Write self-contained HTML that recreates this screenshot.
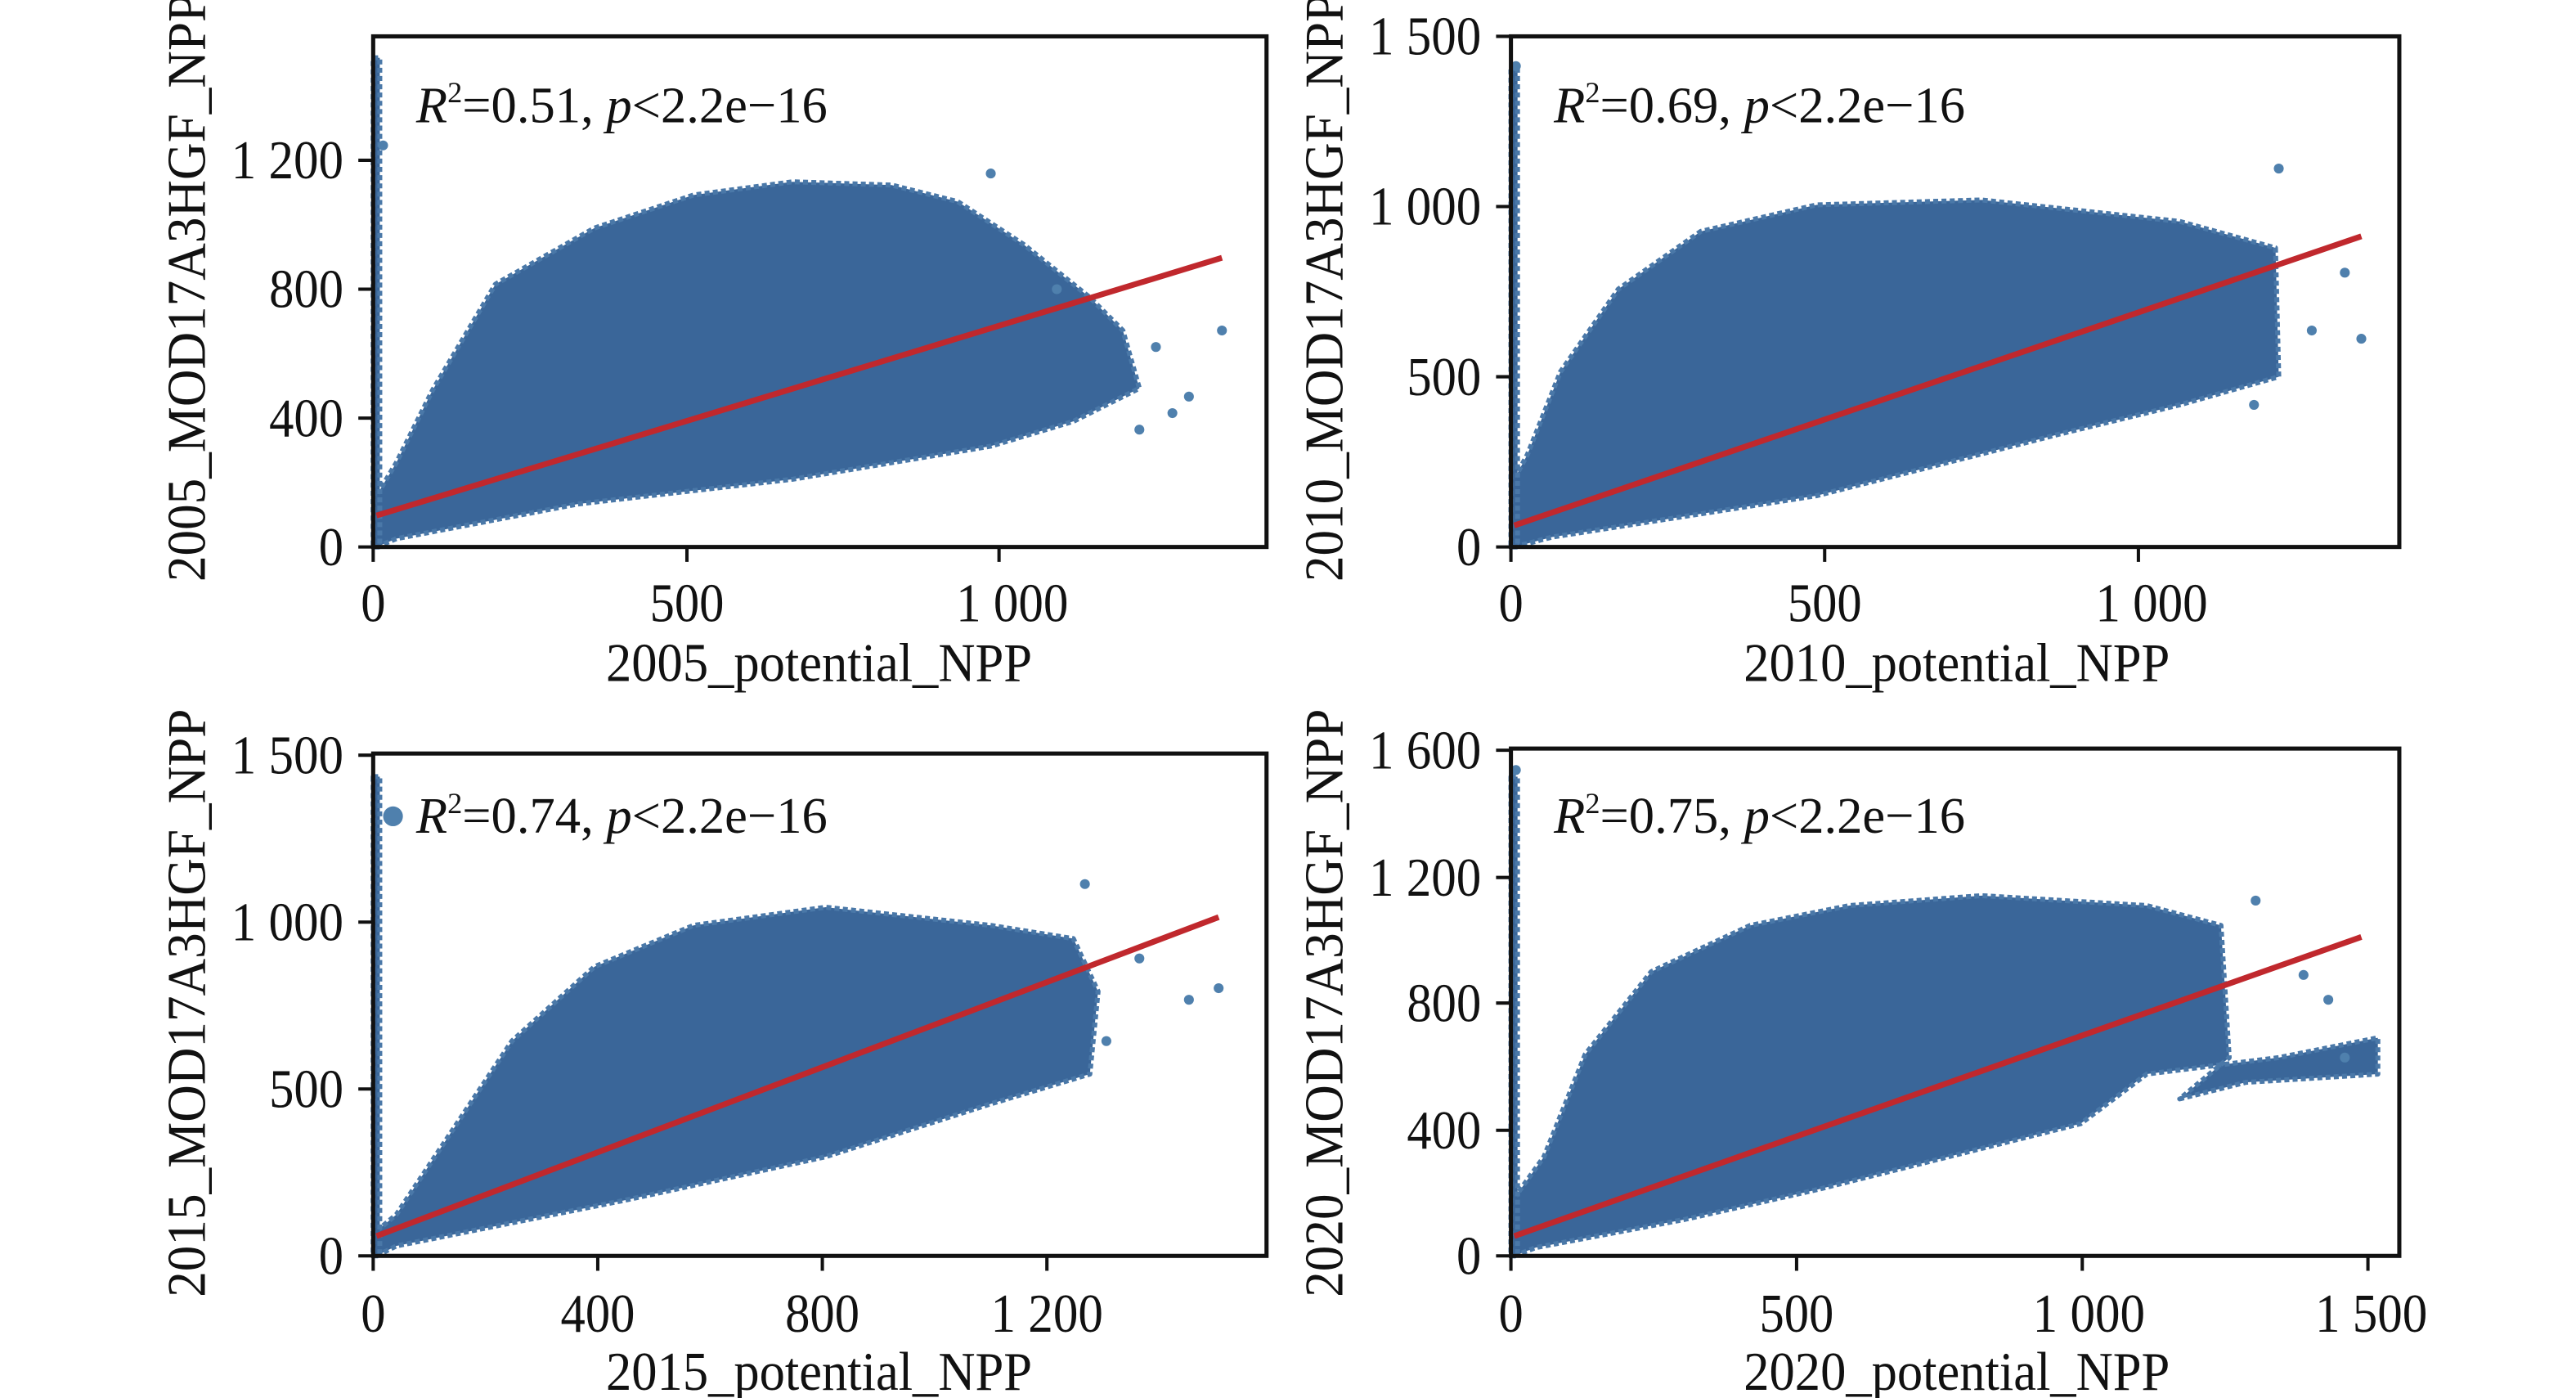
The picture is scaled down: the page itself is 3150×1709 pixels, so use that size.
<!DOCTYPE html>
<html><head><meta charset="utf-8"><style>
html,body{margin:0;padding:0;background:#fff;}
svg{display:block;}
text{font-family:"Liberation Serif",serif;fill:#111;}
</style></head><body>
<svg width="3150" height="1709" viewBox="0 0 1560 846" preserveAspectRatio="none" xmlns="http://www.w3.org/2000/svg">
<g fill="#3a6699" stroke="#4a78a8" stroke-width="3" stroke-linejoin="round" stroke-dasharray="3 2">
<path d="M228,331 L240,326 L350,305 L480,290 L600,270 L650,255 L690,235 L680,200 L660,180 L620,148 L580,122 L540,112 L480,110 L420,118 L360,138 L300,172 L262,236 L240,280 L228,300 Z"/>
<rect x="226" y="35" width="4" height="296"/>
<path d="M917,331 L940,325 L1100,300 L1250,262 L1320,245 L1380,228 L1378,150 L1320,134 L1200,121 L1100,124 L1030,140 L980,175 L945,225 L925,275 L917,290 Z"/>
<rect x="915" y="40" width="4" height="291"/>
<path d="M228,760 L240,754 L380,726 L500,700 L600,668 L660,650 L665,600 L650,568 L600,560 L500,549 L420,560 L360,585 L310,630 L270,690 L240,735 L228,745 Z"/>
<rect x="226" y="470" width="4" height="290"/>
<path d="M917,760 L930,755 L1020,738 L1100,720 L1200,695 L1260,680 L1300,650 L1380,640 L1440,628 L1440,650 L1360,655 L1320,665 L1350,640 L1345,560 L1300,548 L1200,542 L1120,548 L1060,560 L1000,588 L960,638 L935,700 L917,725 Z"/>
<rect x="915" y="470" width="4" height="290"/>
</g>
<g fill="#4f80ad">
<circle cx="232" cy="88" r="3"/><circle cx="600" cy="105" r="3"/><circle cx="640" cy="175" r="3"/><circle cx="700" cy="210" r="3"/><circle cx="720" cy="240" r="3"/><circle cx="740" cy="200" r="3"/><circle cx="710" cy="250" r="3"/><circle cx="690" cy="260" r="3"/>
<circle cx="918" cy="40" r="3"/><circle cx="1380" cy="102" r="3"/><circle cx="1420" cy="165" r="3"/><circle cx="1430" cy="205" r="3"/><circle cx="1400" cy="200" r="3"/><circle cx="1365" cy="245" r="3"/>
<circle cx="238" cy="494" r="6"/><circle cx="657" cy="535" r="3"/><circle cx="690" cy="580" r="3"/><circle cx="720" cy="605" r="3"/><circle cx="738" cy="598" r="3"/><circle cx="670" cy="630" r="3"/>
<circle cx="918" cy="466" r="3"/><circle cx="1366" cy="545" r="3"/><circle cx="1410" cy="605" r="3"/><circle cx="1420" cy="640" r="3"/><circle cx="1395" cy="590" r="3"/>
</g>
<g stroke="#c0282d" stroke-width="3.5" fill="none">
<line x1="228" y1="312" x2="740" y2="156"/>
<line x1="917" y1="318" x2="1430" y2="143"/>
<line x1="228" y1="748" x2="738" y2="555"/>
<line x1="917" y1="748" x2="1430" y2="567"/>
</g>
<g stroke="#111" stroke-width="2.5" fill="none">
<rect x="226" y="22" width="541" height="309"/>
<rect x="915" y="22" width="538" height="309"/>
<rect x="226" y="456" width="541" height="304"/>
<rect x="915" y="453" width="538" height="307"/>
</g>
<g stroke="#111" stroke-width="2">
<path d="M217,331H226M217,253H226M217,175H226M217,97H226 M226,331V340M416,331V340M605,331V340"/>
<path d="M906,331H915M906,228H915M906,125H915M906,22H915 M915,331V340M1105,331V340M1295,331V340"/>
<path d="M217,760H226M217,659H226M217,558H226M217,457H226 M226,760V769M362,760V769M498,760V769M634,760V769"/>
<path d="M906,760H915M906,684H915M906,607H915M906,531H915M906,454H915 M915,760V769M1088,760V769M1261,760V769M1434,760V769"/>
</g>
<g font-size="33" text-anchor="end">
<text x="208" y="342" textLength="15" lengthAdjust="spacingAndGlyphs">0</text><text x="208" y="264" textLength="45" lengthAdjust="spacingAndGlyphs">400</text><text x="208" y="186" textLength="45" lengthAdjust="spacingAndGlyphs">800</text><text x="208" y="108" textLength="68" lengthAdjust="spacingAndGlyphs">1 200</text>
<text x="897" y="342" textLength="15" lengthAdjust="spacingAndGlyphs">0</text><text x="897" y="239" textLength="45" lengthAdjust="spacingAndGlyphs">500</text><text x="897" y="136" textLength="68" lengthAdjust="spacingAndGlyphs">1 000</text><text x="897" y="33" textLength="68" lengthAdjust="spacingAndGlyphs">1 500</text>
<text x="208" y="771" textLength="15" lengthAdjust="spacingAndGlyphs">0</text><text x="208" y="670" textLength="45" lengthAdjust="spacingAndGlyphs">500</text><text x="208" y="569" textLength="68" lengthAdjust="spacingAndGlyphs">1 000</text><text x="208" y="468" textLength="68" lengthAdjust="spacingAndGlyphs">1 500</text>
<text x="897" y="771" textLength="15" lengthAdjust="spacingAndGlyphs">0</text><text x="897" y="695" textLength="45" lengthAdjust="spacingAndGlyphs">400</text><text x="897" y="618" textLength="45" lengthAdjust="spacingAndGlyphs">800</text><text x="897" y="542" textLength="68" lengthAdjust="spacingAndGlyphs">1 200</text><text x="897" y="465" textLength="68" lengthAdjust="spacingAndGlyphs">1 600</text>
</g>
<g font-size="33" text-anchor="middle">
<text x="226" y="376" textLength="15" lengthAdjust="spacingAndGlyphs">0</text><text x="416" y="376" textLength="45" lengthAdjust="spacingAndGlyphs">500</text><text x="613" y="376" textLength="68" lengthAdjust="spacingAndGlyphs">1 000</text>
<text x="915" y="376" textLength="15" lengthAdjust="spacingAndGlyphs">0</text><text x="1105" y="376" textLength="45" lengthAdjust="spacingAndGlyphs">500</text><text x="1303" y="376" textLength="68" lengthAdjust="spacingAndGlyphs">1 000</text>
<text x="226" y="806" textLength="15" lengthAdjust="spacingAndGlyphs">0</text><text x="362" y="806" textLength="45" lengthAdjust="spacingAndGlyphs">400</text><text x="498" y="806" textLength="45" lengthAdjust="spacingAndGlyphs">800</text><text x="634" y="806" textLength="68" lengthAdjust="spacingAndGlyphs">1 200</text>
<text x="915" y="806" textLength="15" lengthAdjust="spacingAndGlyphs">0</text><text x="1088" y="806" textLength="45" lengthAdjust="spacingAndGlyphs">500</text><text x="1265" y="806" textLength="68" lengthAdjust="spacingAndGlyphs">1 000</text><text x="1436" y="806" textLength="68" lengthAdjust="spacingAndGlyphs">1 500</text>
<text x="496" y="412" textLength="258" lengthAdjust="spacingAndGlyphs">2005_potential_NPP</text>
<text x="1185" y="412" textLength="258" lengthAdjust="spacingAndGlyphs">2010_potential_NPP</text>
<text x="496" y="841" textLength="258" lengthAdjust="spacingAndGlyphs">2015_potential_NPP</text>
<text x="1185" y="841" textLength="258" lengthAdjust="spacingAndGlyphs">2020_potential_NPP</text>
<text transform="translate(124,174) rotate(-90)" textLength="356" lengthAdjust="spacingAndGlyphs">2005_MOD17A3HGF_NPP</text>
<text transform="translate(813,174) rotate(-90)" textLength="356" lengthAdjust="spacingAndGlyphs">2010_MOD17A3HGF_NPP</text>
<text transform="translate(124,607) rotate(-90)" textLength="356" lengthAdjust="spacingAndGlyphs">2015_MOD17A3HGF_NPP</text>
<text transform="translate(813,607) rotate(-90)" textLength="356" lengthAdjust="spacingAndGlyphs">2020_MOD17A3HGF_NPP</text>
</g>
<g font-size="31">
<text x="252" y="74"><tspan font-style="italic">R</tspan><tspan font-size="18" dy="-12">2</tspan><tspan dy="12">=0.51, </tspan><tspan font-style="italic">p</tspan>&lt;2.2e−16</text>
<text x="941" y="74"><tspan font-style="italic">R</tspan><tspan font-size="18" dy="-12">2</tspan><tspan dy="12">=0.69, </tspan><tspan font-style="italic">p</tspan>&lt;2.2e−16</text>
<text x="252" y="504"><tspan font-style="italic">R</tspan><tspan font-size="18" dy="-12">2</tspan><tspan dy="12">=0.74, </tspan><tspan font-style="italic">p</tspan>&lt;2.2e−16</text>
<text x="941" y="504"><tspan font-style="italic">R</tspan><tspan font-size="18" dy="-12">2</tspan><tspan dy="12">=0.75, </tspan><tspan font-style="italic">p</tspan>&lt;2.2e−16</text>
</g>
</svg>
</body></html>
